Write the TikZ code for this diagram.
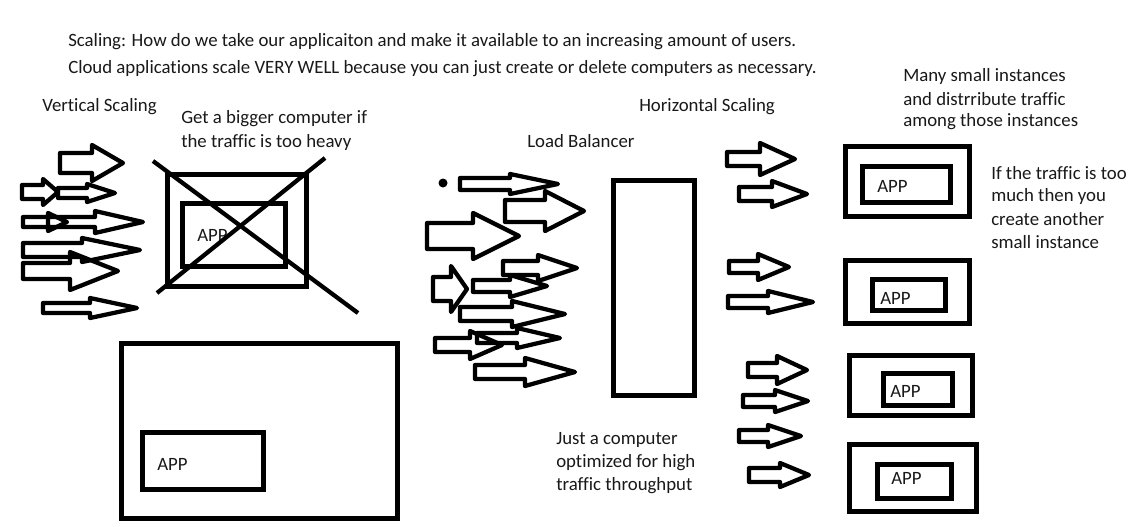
\documentclass[tikz,border=0pt]{standalone}
\usepackage{fontspec}
\setmainfont{Carlito}[Ligatures=CommonOff]
\newcommand\blkarrow[6]{% tail, y, headbase, tip, body half, head half
  \draw[arrowline] ({#1},{#2-#5}) -- ({#3},{#2-#5}) -- ({#3},{#2-#6}) -- ({#4},{#2}) -- ({#3},{#2+#6}) -- ({#3},{#2+#5}) -- ({#1},{#2+#5}) -- cycle;}
\begin{document}
\begin{tikzpicture}[x=0.75pt,y=-0.75pt,
  box/.style={draw=black,line width=3.75pt,line join=miter},
  arrowline/.style={draw=black,line width=3.2pt,line join=round},
  cross/.style={draw=black,line width=3.2pt},
  txt/.style={anchor=west,inner sep=0pt,font=\fontsize{14.1}{16}\selectfont,text=black!90}]
\useasboundingbox (0,0) rectangle (1136,526);
\fill[white] (0,0) rectangle (1136,526);
% texts
\node[txt] (t1) at (68,42) {Scaling: How do we take our applicaiton and make it available to an increasing amount of users.};
\node[txt] (t2) at (68,69) {Cloud applications scale VERY WELL because you can just create or delete computers as necessary.};
\node[txt] (vs) at (42,107) {Vertical Scaling};
\node[txt] (gb1) at (181,119) {Get a bigger computer if};
\node[txt] (gb2) at (181,142) {the traffic is too heavy};
\node[txt] (lb) at (527,141) {Load Balancer};
\node[txt] (hs) at (639,107) {Horizontal Scaling};
\node[txt] (ms1) at (903,76) {Many small instances};
\node[txt] (ms2) at (903,99) {and distrribute traffic};
\node[txt] (ms3) at (903,122) {among those instances};
\node[txt] (if1) at (991,173) {If the traffic is too};
\node[txt] (if2) at (991,196) {much then you};
\node[txt] (if3) at (991,219) {create another};
\node[txt] (if4) at (991,242) {small instance};
\node[txt] (jc1) at (556,440) {Just a computer};
\node[txt] (jc2) at (556,463) {optimized for high};
\node[txt] (jc3) at (556,486) {traffic throughput};
% vertical scaling: crossed small computer
\draw[box] (167,174) rectangle (306,286);
\draw[box] (182,203) rectangle (285,266);
\node[txt] (app0) at (197,235) {APP};
\draw[cross] (153,161) -- (358,313);
\draw[cross] (157,293) -- (325,158);
% big computer
\draw[box] (121,343) rectangle (397,518);
\draw[box] (142,432) rectangle (263,489);
\node[txt] (app1) at (157,464) {APP};
% load balancer
\draw[box] (613,180) rectangle (694,395);
% small instances
\draw[box] (845,146) rectangle (969,216);
\draw[box] (862,166) rectangle (950,202);
\node[txt] (app2) at (877,186) {APP};
\draw[box] (845,260) rectangle (969,323);
\draw[box] (872,279) rectangle (945,310);
\node[txt] (app3) at (880,298) {APP};
\draw[box] (849,355) rectangle (972,415);
\draw[box] (883,373) rectangle (952,405);
\node[txt] (app4) at (890,391) {APP};
\draw[box] (849,444) rectangle (976,511);
\draw[box] (877,464) rectangle (951,498);
\node[txt] (app5) at (891,478) {APP};
% left arrows
\blkarrow{60}{163}{92}{123}{10}{18}
\blkarrow{22}{192}{43}{58}{7}{13}
\blkarrow{58}{193}{87}{115}{5}{9}
\blkarrow{23}{222}{48}{67}{5}{9}
\blkarrow{48}{222}{95}{143}{5}{11}
\blkarrow{23}{250}{82}{140}{7}{12}
\blkarrow{23}{271}{70}{118}{8}{19}
\blkarrow{43}{308}{90}{137}{5}{10}
% middle arrows
\fill[black] (443,183) circle[radius=4.5];
\blkarrow{460}{184}{510}{558}{6}{10}
\blkarrow{505}{211}{545}{584}{11}{20}
\blkarrow{427}{236}{473}{519}{13}{23}
\blkarrow{503}{268}{538}{577}{7}{13}
\blkarrow{433}{289}{451}{467}{12}{23}
\blkarrow{473}{286}{510}{547}{6}{11}
\blkarrow{460}{314}{512}{565}{7}{13}
\blkarrow{435}{345}{470}{502}{7}{14}
\blkarrow{477}{338}{517}{560}{5}{10}
\blkarrow{475}{372}{525}{575}{7}{14}
% right arrows
\blkarrow{727}{159}{760}{795}{7}{16}
\blkarrow{739}{194}{772}{807}{7}{13}
\blkarrow{729}{267}{758}{789}{6}{13}
\blkarrow{728}{302}{768}{813}{6}{11}
\blkarrow{748}{370}{777}{807}{7}{14}
\blkarrow{743}{401}{775}{808}{6}{11}
\blkarrow{739}{436}{768}{801}{6}{11}
\blkarrow{749}{475}{780}{809}{7}{12}
\end{tikzpicture}
\end{document}
